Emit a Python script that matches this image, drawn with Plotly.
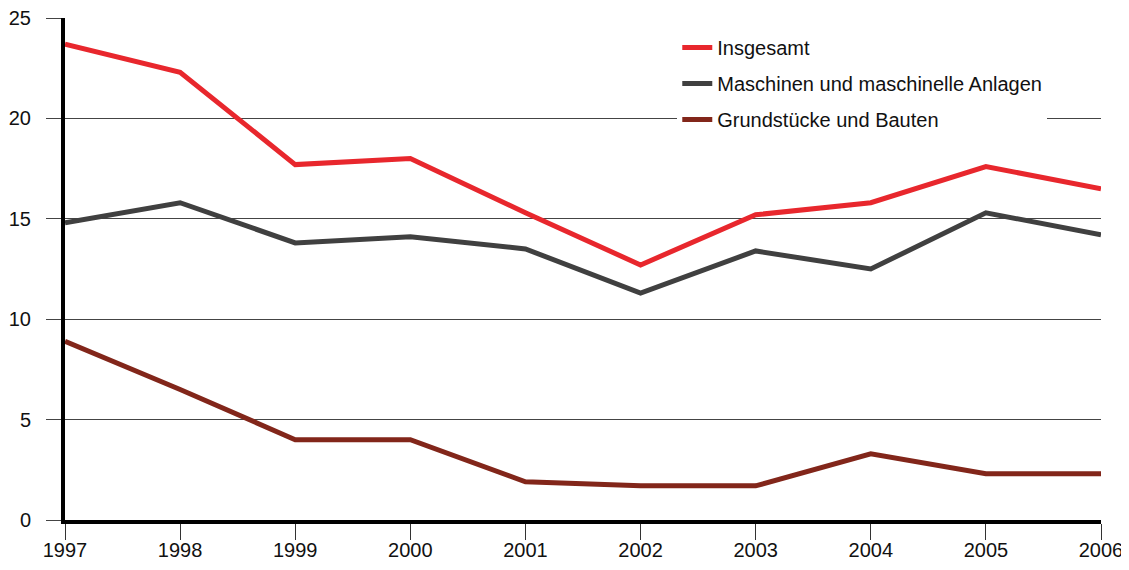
import plotly.graph_objects as go

YEARS = [1997, 1998, 1999, 2000, 2001, 2002, 2003, 2004, 2005, 2006]
INSGESAMT = [23.7, 22.3, 17.7, 18.0, 15.3, 12.7, 15.2, 15.8, 17.6, 16.5]
MASCHINEN = [14.8, 15.8, 13.8, 14.1, 13.5, 11.3, 13.4, 12.5, 15.3, 14.2]
GRUNDSTUECKE = [8.9, 6.5, 4.0, 4.0, 1.9, 1.7, 1.7, 3.3, 2.3, 2.3]

SERIES = [
    ("Insgesamt", INSGESAMT, "#e8272d"),
    ("Maschinen und maschinelle Anlagen", MASCHINEN, "#404040"),
    ("Grundstücke und Bauten", GRUNDSTUECKE, "#82261a"),
]

FONT = "Liberation Sans, Arial, sans-serif"

fig = go.Figure()
for i, (name, values, color) in enumerate(SERIES):
    fig.add_trace(
        go.Scatter(
            x=YEARS,
            y=values,
            mode="lines",
            name=name,
            legendgroup=f"g{i}",
            line=dict(color=color, width=5),
        )
    )

# page body adds an 8px offset, so margins are shifted to keep the plot in place
fig.update_layout(
    width=1121,
    height=554,
    paper_bgcolor="white",
    plot_bgcolor="white",
    margin=dict(l=57, r=28, t=10, b=42),
    font=dict(family=FONT, size=20, color="#111111"),
    showlegend=True,
    legend=dict(
        x=0.591,
        y=0.98,
        xanchor="left",
        yanchor="top",
        bgcolor="white",
        tracegroupgap=7,
        font=dict(family=FONT, size=20, color="#111111"),
    ),
)

fig.update_xaxes(
    range=[1997, 2006],
    tickvals=YEARS,
    automargin=False,
    ticklabeloverflow="allow",
    showgrid=False,
    zeroline=False,
    showline=True,
    linecolor="black",
    linewidth=4,
    ticks="outside",
    ticklen=16,
    tickwidth=1,
    tickcolor="#333333",
    ticklabelstandoff=-7,
)
fig.update_yaxes(
    range=[0, 25],
    tickvals=[0, 5, 10, 15, 20, 25],
    automargin=False,
    ticklabeloverflow="allow",
    showgrid=True,
    gridcolor="#444444",
    gridwidth=1,
    zeroline=False,
    showline=True,
    linecolor="black",
    linewidth=4,
    ticks="outside",
    ticklen=15,
    tickwidth=1,
    tickcolor="#444444",
    ticklabelstandoff=11,
)

fig.write_html("out.html")
